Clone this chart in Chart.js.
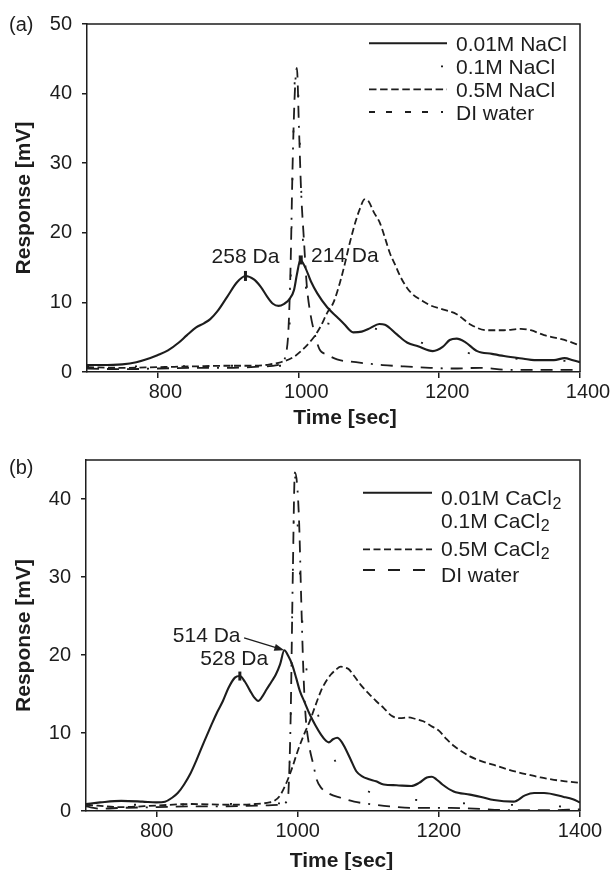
<!DOCTYPE html>
<html><head><meta charset="utf-8">
<script src="https://cdn.jsdelivr.net/npm/chart.js@4/dist/chart.umd.min.js"></script>
<style>
html,body{margin:0;padding:0;background:#fff;overflow:hidden;width:614px;height:870px;}
canvas{position:absolute;left:0;}
#c1{top:0}
#c2{top:435px}
</style></head><body>
<canvas id="c1" width="614" height="435"></canvas>
<canvas id="c2" width="614" height="435"></canvas>
<script>
// ---------- Panel (a): NaCl ----------
const naclTime001 = [700,720,750,770,790,800,815,830,842,855,866,875,885,899,913,925,937,947,956,964,972,980,987,994,998,1003,1010,1018,1027,1041,1055,1065,1078,1090,1102,1115,1123,1140,1155,1170,1191,1205,1215,1225,1237,1254,1275,1292,1320,1335,1363,1378,1390,1400];
const naclResp001 = [1.0,1.0,1.1,1.4,2.0,2.4,3.1,4.2,5.3,6.4,7.0,7.6,8.7,10.8,12.9,13.8,13.3,12.2,10.8,9.8,9.5,9.8,10.4,11.8,14.0,16.1,15.0,13.0,11.3,9.3,7.9,6.9,5.7,5.8,6.3,6.9,6.8,5.4,4.2,3.7,3.0,3.6,4.6,4.8,4.3,3.0,2.6,2.3,1.9,1.7,1.7,2.0,1.7,1.4];
const naclTime01 = [700,800,900,980,986,989,991,993,995,997,1000,1003,1007,1012,1020,1040,1070,1100,1150,1200,1300,1400];
const naclResp01 = [0.8,0.8,0.9,0.9,3,12,24,34,42,44,40,30,18,11,8,7,6.6,6.4,5,3.5,2,1.5];
const naclTime05 = [700,750,800,850,900,940,960,975,994,1008,1022,1032,1041,1050,1059,1066,1073,1081,1088,1094,1100,1107,1116,1123,1130,1138,1145,1155,1163,1175,1187,1205,1225,1245,1268,1292,1316,1330,1349,1378,1400];
const naclResp05 = [0.7,0.6,0.7,0.8,0.9,0.9,1.1,1.4,2.2,3.4,5.0,6.6,8.5,10.0,12.8,15.5,18.5,21.5,23.6,24.8,24.5,23.0,21.4,19.3,17.1,15.3,13.7,12.0,11.1,10.3,9.6,9.0,8.3,6.8,6.0,6.0,6.2,6.0,5.3,4.6,3.8];
const naclTimeDI = [700,750,800,850,900,950,970,978,983,986,989,992,995,998,1001,1004,1008,1012,1017,1022,1030,1041,1055,1073,1100,1120,1150,1187,1220,1258,1300,1350,1400];
const naclRespDI = [0.5,0.4,0.5,0.6,0.6,0.8,1.0,1.5,2.8,6.0,15,30,40,43.7,35,26,19,12.5,8.5,6.0,3.3,2.5,1.8,1.5,1.2,1.0,0.8,0.6,0.5,0.6,0.3,0.3,0.3];

// ---------- Panel (b): CaCl2 ----------
const cacTime001 = [700,720,750,780,800,812,822,830,839,848,856,867,878,886,894,902,911,918,925,932,938,944,950,956,963,969,975,981,987,992,998,1003,1010,1017,1025,1033,1040,1044,1050,1056,1062,1067,1075,1083,1092,1100,1111,1122,1140,1161,1172,1183,1190,1196,1205,1221,1244,1260,1278,1306,1322,1335,1349,1377,1390,1400];
const cacResp001 = [0.9,1.1,1.3,1.2,1.1,1.2,1.7,2.3,3.4,4.8,6.4,8.8,11.1,12.7,14.1,15.8,17.1,17.3,16.6,15.5,14.6,14.1,14.7,15.6,16.6,17.5,18.8,20.6,19.8,18.8,17.0,15.4,13.9,12.4,11.0,9.8,9.0,8.8,9.2,9.4,8.9,8.1,6.6,5.1,4.4,4.1,3.8,3.4,3.3,3.2,3.6,4.3,4.4,4.1,3.4,2.5,2.1,1.8,1.4,1.2,2.0,2.3,2.3,1.8,1.5,1.1];
const cacTime01 = [700,800,900,980,987,990,993,996,998,1002,1005,1010,1020,1030,1045,1070,1100,1200,1300,1400];
const cacResp01 = [0.8,0.8,0.9,1.0,3,12,30,43,40,32.6,26.7,20,15,12,8,4,2.5,1.2,0.8,0.5];
const cacTime05 = [700,750,800,850,900,940,960,967,975,983,992,1000,1008,1017,1025,1033,1040,1047,1054,1061,1067,1072,1080,1089,1100,1111,1122,1133,1145,1156,1167,1178,1189,1200,1211,1222,1233,1244,1260,1278,1295,1311,1330,1344,1363,1380,1400];
const cacResp05 = [0.8,0.5,0.7,0.9,0.8,0.9,1.1,1.3,2.0,3.4,5.5,7.7,9.6,11.5,13.5,15.4,16.6,17.5,18.1,18.5,18.4,18.2,17.3,16.2,15.1,14.1,13.2,12.2,11.9,12.0,11.8,11.5,10.9,10.3,9.2,8.3,7.6,7.0,6.4,5.9,5.4,5.0,4.6,4.3,4.0,3.8,3.6];
const cacTimeDI = [700,720,750,800,850,900,950,975,986,988,990,993,996,999,1002,1005,1008,1011,1016,1022,1027,1033,1045,1061,1080,1106,1130,1161,1217,1250,1300,1350,1400];
const cacRespDI = [0.6,0.3,0.4,0.5,0.6,0.6,0.7,0.8,1.5,5,12,30,43.4,42,37,27,18,12.4,8.5,6,4,3,2.2,1.7,1.2,0.85,0.6,0.4,0.4,0.3,0.1,0.1,0.2];

// ---------- ticks & labels ----------
const xTickValues = [800, 1000, 1200, 1400];
const yTickValuesA = [0, 10, 20, 30, 40, 50];
const yTickValuesB = [0, 10, 20, 30, 40];
const seriesNamesA = ['0.01M NaCl', '0.1M NaCl', '0.5M NaCl', 'DI water'];
const seriesNamesB = ['0.01M CaCl', '0.1M CaCl', '0.5M CaCl', 'DI water'];
const seriesSubsB = ['2', '2', '2', ''];

const INK = '#1d1d1d';
const FONT = '"Liberation Sans", Arial, Helvetica, sans-serif';

const STYLES = [
  { borderWidth: 2.1, borderDash: [] },
  { borderWidth: 1.8, borderDash: [2, 46] },
  { borderWidth: 1.8, borderDash: [7, 3.5] },
  { borderWidth: 1.8, borderDash: [12, 8, 12, 8, 12, 8, 2, 8] }
];

function toPoints(t, v) { return t.map((tt, i) => ({ x: tt, y: v[i] })); }
function makeDatasets(names, pairs) {
  return pairs.map((p, i) => Object.assign({
    label: names[i], data: toPoints(p[0], p[1]), borderColor: INK, backgroundColor: INK,
    pointRadius: 0, fill: false, cubicInterpolationMode: 'monotone', borderCapStyle: 'butt', borderJoinStyle: 'round'
  }, STYLES[i]));
}

function makeDecor(cfg) {
  return {
    id: 'decor',
    afterDraw(chart) {
      const { ctx, chartArea: a, scales: { x, y } } = chart;
      ctx.save();
      ctx.strokeStyle = INK; ctx.fillStyle = INK; ctx.lineWidth = 1.5; ctx.setLineDash([]);
      ctx.beginPath(); ctx.moveTo(a.left, a.top); ctx.lineTo(a.right, a.top); ctx.lineTo(a.right, a.bottom); ctx.stroke();
      ctx.font = '20px ' + FONT; ctx.textAlign = 'left'; ctx.textBaseline = 'middle';
      ctx.fillText(cfg.panel, 9, cfg.panelY);
      ctx.font = 'bold 21px ' + FONT; ctx.textAlign = 'center';
      ctx.fillText('Time [sec]', cfg.xTitleX, cfg.xTitleY);
      cfg.markers.forEach(m => {
        const px = x.getPixelForValue(m.t), py = y.getPixelForValue(m.v);
        ctx.fillRect(px - m.w / 2, py - m.h / 2, m.w, m.h);
      });
      ctx.font = '21px ' + FONT;
      cfg.labels.forEach(l => {
        ctx.textAlign = l.align;
        ctx.fillText(l.text, x.getPixelForValue(l.t), y.getPixelForValue(l.v));
      });
      cfg.arrows.forEach(ar => {
        const x0 = x.getPixelForValue(ar.t0), y0 = y.getPixelForValue(ar.v0);
        const x1 = x.getPixelForValue(ar.t1), y1 = y.getPixelForValue(ar.v1);
        const ang = Math.atan2(y1 - y0, x1 - x0);
        ctx.lineWidth = 1.3;
        ctx.beginPath(); ctx.moveTo(x0, y0); ctx.lineTo(x1 - 7 * Math.cos(ang), y1 - 7 * Math.sin(ang)); ctx.stroke();
        ctx.beginPath();
        ctx.moveTo(x1, y1);
        ctx.lineTo(x1 - 10 * Math.cos(ang) + 3.5 * Math.sin(ang), y1 - 10 * Math.sin(ang) - 3.5 * Math.cos(ang));
        ctx.lineTo(x1 - 10 * Math.cos(ang) - 3.5 * Math.sin(ang), y1 - 10 * Math.sin(ang) + 3.5 * Math.cos(ang));
        ctx.closePath(); ctx.fill();
      });
      const L = cfg.legend;
      chart.data.datasets.forEach((ds, i) => {
        if (L.dash[i]) {
          ctx.save();
          ctx.lineWidth = ds.borderWidth; ctx.lineCap = 'butt';
          ctx.setLineDash(L.dash[i]); ctx.lineDashOffset = L.dashOffset[i] || 0;
          ctx.beginPath(); ctx.moveTo(L.x0, L.lineY[i]); ctx.lineTo(L.x1, L.lineY[i]); ctx.stroke();
          ctx.restore();
        }
        ctx.textAlign = 'left'; ctx.textBaseline = 'alphabetic';
        ctx.font = '21px ' + FONT;
        const base = L.textY[i] + 7.5;
        ctx.fillText(L.names[i], L.tx, base);
        if (L.subs && L.subs[i]) {
          const w = ctx.measureText(L.names[i]).width;
          ctx.font = '16px ' + FONT;
          ctx.fillText(L.subs[i], L.tx + w + 0.5, base + 3.5);
        }
      });
      ctx.restore();
    }
  };
}

function makeChart(id, datasets, o) {
  const tickFont = { family: FONT, size: 20 };
  return new Chart(document.getElementById(id), {
    type: 'line',
    data: { datasets },
    options: {
      responsive: false, animation: false, devicePixelRatio: 1,
      layout: { padding: { left: 0, top: o.padTop, right: 34, bottom: 0 } },
      plugins: { legend: { display: false }, tooltip: { enabled: false } },
      scales: {
        x: {
          type: 'linear', min: 700, max: 1400,
          afterBuildTicks: s => { s.ticks = xTickValues.map(v => ({ value: v })); },
          afterFit: s => { s.height = o.xHeight; },
          grid: { drawOnChartArea: false, drawTicks: true, tickLength: 6, color: INK, lineWidth: 1.5 },
          border: { display: true, color: INK, width: 1.5 },
          ticks: { font: tickFont, color: INK, padding: 2, maxRotation: 0, autoSkip: false,
                   labelOffset: o.xLabelOffset, callback: v => String(v) }
        },
        y: {
          type: 'linear', min: 0, max: o.yMax,
          afterBuildTicks: s => { s.ticks = o.yTicks.map(v => ({ value: v })); },
          afterFit: s => { s.width = o.yWidth; },
          grid: { drawOnChartArea: false, drawTicks: true, tickLength: 5, color: INK, lineWidth: 1.5 },
          border: { display: true, color: INK, width: 1.5 },
          ticks: { font: tickFont, color: INK, padding: 10, callback: v => String(v) },
          title: { display: true, text: 'Response [mV]', color: INK,
                   font: { family: FONT, size: 21, weight: 'bold' }, padding: { top: 12, bottom: 0 } }
        }
      }
    },
    plugins: [makeDecor(o.decor)]
  });
}

const dsA = makeDatasets(seriesNamesA, [[naclTime001, naclResp001], [naclTime01, naclResp01], [naclTime05, naclResp05], [naclTimeDI, naclRespDI]]);
const dsB = makeDatasets(seriesNamesB, [[cacTime001, cacResp001], [cacTime01, cacResp01], [cacTime05, cacResp05], [cacTimeDI, cacRespDI]]);

makeChart('c1', dsA, {
  padTop: 24, xHeight: 63, yWidth: 87, yMax: 50, yTicks: yTickValuesA, xLabelOffset: 8,
  decor: {
    panel: '(a)', panelY: 25, xTitleX: 345, xTitleY: 418,
    markers: [{ t: 925, v: 13.8, w: 3, h: 10 }, { t: 1003.5, v: 16.1, w: 4, h: 9 }],
    labels: [{ text: '258 Da', t: 925, v: 16.5, align: 'center' }, { text: '214 Da', t: 1018, v: 16.6, align: 'left' }],
    arrows: [],
    legend: {
      names: seriesNamesA, subs: null, x0: 369, x1: 447, tx: 456,
      lineY: [43.3, 66.4, 89.3, 112], textY: [43.5, 66.4, 89.3, 112.2],
      dash: [[], [2, 100], [7.5, 3.6], [6, 11, 6, 13, 6, 11, 6, 13, 2, 10]], dashOffset: [0, -72, 0, 0]
    }
  }
});

makeChart('c2', dsB, {
  padTop: 25, xHeight: 59, yWidth: 86, yMax: 45, yTicks: yTickValuesB, xLabelOffset: 0,
  decor: {
    panel: '(b)', panelY: 33, xTitleX: 341.5, xTitleY: 426,
    markers: [{ t: 918, v: 17.3, w: 3, h: 9 }],
    labels: [{ text: '514 Da', t: 871, v: 22.4, align: 'center' }, { text: '528 Da', t: 910, v: 19.4, align: 'center' }],
    arrows: [{ t0: 924, v0: 22.2, t1: 981, v1: 20.6 }],
    legend: {
      names: seriesNamesB, subs: seriesSubsB, x0: 363, x1: 432, tx: 441,
      lineY: [57.7, 85, 114.3, 135], textY: [62.5, 85, 113.3, 139],
      dash: [[], null, [7, 3.5], [12, 13, 12, 13, 12, 8, 2, 20]], dashOffset: [0, 0, 0, 0]
    }
  }
});
</script>
</body></html>
